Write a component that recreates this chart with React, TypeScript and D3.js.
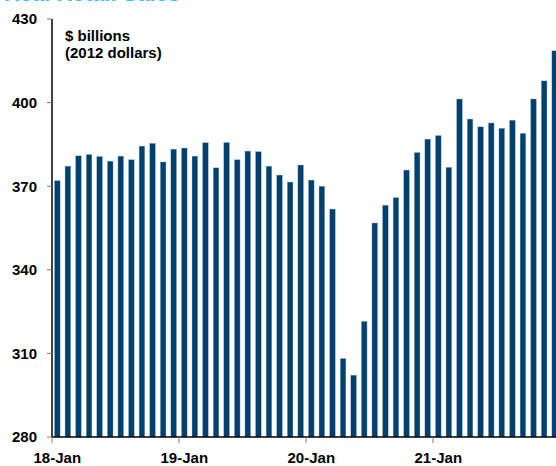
import React from "react";
import * as d3 from "d3";

const months: string[] = [
  "2018-01","2018-02","2018-03","2018-04","2018-05","2018-06","2018-07","2018-08","2018-09","2018-10","2018-11","2018-12",
  "2019-01","2019-02","2019-03","2019-04","2019-05","2019-06","2019-07","2019-08","2019-09","2019-10","2019-11","2019-12",
  "2020-01","2020-02","2020-03","2020-04","2020-05","2020-06","2020-07","2020-08","2020-09","2020-10","2020-11","2020-12",
  "2021-01","2021-02","2021-03","2021-04","2021-05","2021-06","2021-07","2021-08","2021-09","2021-10","2021-11","2021-12",
];

const values: number[] = [
  372.0, 377.2, 380.9, 381.4, 380.7, 379.0, 380.8, 379.5, 384.4, 385.4, 378.7, 383.3,
  383.7, 380.8, 385.6, 376.6, 385.7, 379.5, 382.6, 382.4, 377.2, 374.0, 371.5, 377.6,
  372.2, 370.0, 361.8, 308.2, 302.2, 321.5, 356.8, 363.2, 365.9, 375.8, 382.1, 386.9,
  388.2, 376.8, 401.3, 394.1, 391.3, 392.7, 390.8, 393.7, 389.0, 401.3, 407.8, 418.6,
];

const yTicks: number[] = [280, 310, 340, 370, 400, 430];
const xTickIndex: number[] = [0, 12, 24, 36];
const xTickLabels: string[] = ["18-Jan", "19-Jan", "20-Jan", "21-Jan"];
const unitLines: string[] = ["$ billions", "(2012 dollars)"];
const title = "Real Retail Sales";

export default function App() {
  const W = 556, H = 466;
  const x0 = 52, x1 = 560, yTop = 19, yBot = 437;
  const x = d3.scaleBand<string>().domain(months).range([x0, x1]).paddingInner(0.46).paddingOuter(0.23);
  const y = d3.scaleLinear().domain([280, 430]).range([yBot, yTop]);
  const font = "'Liberation Sans', Arial, Helvetica, sans-serif";
  const step = x.step();

  return (
    <div style={{ position: "absolute", left: 0, top: 0 }}>
      <svg width={W} height={H} style={{ display: "block", background: "#fff" }}>
        <text x={4} y={1} fill="#3cbdf0" fontFamily={font} fontWeight="bold" fontSize={22}>{title}</text>
        {months.map((m, i) => (
          <rect key={m} x={x(m)!} y={y(values[i])} width={x.bandwidth()} height={yBot - y(values[i])} fill="#00406f" stroke="#a9bed3" strokeWidth={0.4} />
        ))}
        {/* y axis */}
        <line x1={x0} x2={x0} y1={yTop} y2={yBot} stroke="#000" strokeWidth={1.5} />
        {yTicks.map((t) => (
          <g key={t}>
            <line x1={x0 - 5} x2={x0} y1={y(t)} y2={y(t)} stroke="#777" strokeWidth={1} />
            <text x={37} y={y(t)} dy="0.36em" textAnchor="end" fontFamily={font} fontWeight="bold" fontSize={15} fill="#000">{t}</text>
          </g>
        ))}
        {/* x axis */}
        <line x1={x0} x2={W} y1={yBot} y2={yBot} stroke="#000" strokeWidth={1.5} />
        {xTickIndex.map((idx, k) => {
          const bx = x0 + idx * step;
          const cx = x(months[idx])! + x.bandwidth() / 2;
          return (
            <g key={idx}>
              <line x1={bx} x2={bx} y1={yBot} y2={yBot + 6} stroke="#777" strokeWidth={1} />
              <text x={cx} y={463} textAnchor="middle" fontFamily={font} fontWeight="bold" fontSize={15} fill="#000">{xTickLabels[k]}</text>
            </g>
          );
        })}
        {unitLines.map((l, i) => (
          <text key={l} x={65} y={41 + i * 17} fontFamily={font} fontWeight="bold" fontSize={15} fill="#000">{l}</text>
        ))}
      </svg>
    </div>
  );
}
